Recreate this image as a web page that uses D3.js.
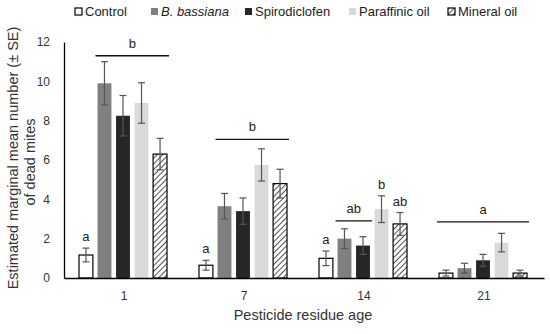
<!DOCTYPE html>
<html lang="en">
<head>
<meta charset="UTF-8" />
<title>Dead mites by pesticide residue age</title>
<style>
  body { margin: 0; background: #fff; }
  svg { display: block; font-family: "Liberation Sans", Arial, sans-serif; }
</style>
</head>
<body>
<svg></svg>
<script src="https://d3js.org/d3.v7.min.js"></script>
<script>
  const ages = ["1", "7", "14", "21"];
  const treatments = ["Control", "B. bassiana", "Spirodiclofen", "Paraffinic oil", "Mineral oil"];

  // mean values per treatment, in order of ages
  const controlMean = [1.17, 0.65, 1.0, 0.25];
  const bassianaMean = [9.9, 3.65, 2.0, 0.5];
  const spiroMean = [8.25, 3.4, 1.65, 0.9];
  const paraffinMean = [8.9, 5.75, 3.5, 1.8];
  const mineralMean = [6.3, 4.8, 2.75, 0.25];

  // SE
  const controlSE = [0.35, 0.25, 0.37, 0.15];
  const bassianaSE = [1.1, 0.65, 0.5, 0.25];
  const spiroSE = [1.03, 0.67, 0.45, 0.3];
  const paraffinSE = [1.03, 0.82, 0.68, 0.47];
  const mineralSE = [0.8, 0.73, 0.58, 0.15];

  const yTicks = [0, 2, 4, 6, 8, 10, 12];

  // letters: single letter above a bar, or letter over a line spanning bars
  const singleLetters = [
    { age: "1", t: "Control", text: "a" },
    { age: "7", t: "Control", text: "a" },
    { age: "14", t: "Control", text: "a" },
    { age: "14", t: "Paraffinic oil", text: "b" },
    { age: "14", t: "Mineral oil", text: "ab" }
  ];
  const groupLetters = [
    { age: "1", from: "B. bassiana", to: "Mineral oil", level: 11.3, text: "b" },
    { age: "7", from: "B. bassiana", to: "Mineral oil", level: 7.05, text: "b" },
    { age: "14", from: "B. bassiana", to: "Spirodiclofen", level: 2.9, text: "ab" },
    { age: "21", from: "Control", to: "Mineral oil", level: 2.85, text: "a" }
  ];

  const means = [controlMean, bassianaMean, spiroMean, paraffinMean, mineralMean];
  const ses = [controlSE, bassianaSE, spiroSE, paraffinSE, mineralSE];
  const fills = ["#ffffff", "#808080", "#262626", "#d9d9d9", "url(#hatch)"];
  const strokes = ["#000", "none", "none", "none", "#000"];

  const data = [];
  ages.forEach((a, i) => {
    treatments.forEach((t, j) => {
      data.push({ age: a, t, idx: j, mean: means[j][i], se: ses[j][i] });
    });
  });

  const width = 550, height = 334;
  const margin = { top: 42, right: 6, bottom: 56, left: 64 };

  const svg = d3.select("svg").attr("width", width).attr("height", height);

  const defs = svg.append("defs");
  const pat = defs.append("pattern")
    .attr("id", "hatch")
    .attr("patternUnits", "userSpaceOnUse")
    .attr("width", 4).attr("height", 4)
    .attr("patternTransform", "rotate(45)");
  pat.append("rect").attr("width", 4).attr("height", 4).attr("fill", "#fff");
  pat.append("line").attr("x1", 0).attr("y1", 0).attr("x2", 0).attr("y2", 4)
    .attr("stroke", "#222").attr("stroke-width", 1.6);

  const x = d3.scaleBand().domain(ages)
    .range([margin.left, width - margin.right]);
  const x1 = d3.scaleBand().domain(treatments)
    .range([15, x.bandwidth() - 17]).paddingInner(0.25);
  const y = d3.scaleLinear().domain([0, 12])
    .range([height - margin.bottom, margin.top]);

  // y axis
  const yAxis = svg.append("g")
    .attr("transform", `translate(${margin.left},0)`)
    .call(d3.axisLeft(y).tickValues(yTicks).tickSize(0).tickPadding(14));
  yAxis.select(".domain").attr("stroke", "#000").attr("stroke-width", 1.3);
  yAxis.selectAll("text").attr("font-size", 12).attr("fill", "#333");

  // bars
  svg.append("g").selectAll("rect")
    .data(data)
    .join("rect")
    .attr("x", d => x(d.age) + x1(d.t))
    .attr("y", d => y(d.mean))
    .attr("width", x1.bandwidth())
    .attr("height", d => y(0) - y(d.mean))
    .attr("fill", d => fills[d.idx])
    .attr("stroke", d => strokes[d.idx])
    .attr("stroke-width", 1.2);

  // error bars
  const eb = svg.append("g").attr("stroke", "#555").attr("stroke-width", 1.2);
  data.forEach(d => {
    const cx = x(d.age) + x1(d.t) + x1.bandwidth() / 2;
    const yt = y(d.mean + d.se), yb = y(Math.max(0, d.mean - d.se));
    eb.append("line").attr("x1", cx).attr("x2", cx).attr("y1", yt).attr("y2", yb);
    eb.append("line").attr("x1", cx - 3.5).attr("x2", cx + 3.5).attr("y1", yt).attr("y2", yt);
    eb.append("line").attr("x1", cx - 3.5).attr("x2", cx + 3.5).attr("y1", yb).attr("y2", yb);
  });

  // x axis
  const xAxis = svg.append("g")
    .attr("transform", `translate(0,${y(0)})`)
    .call(d3.axisBottom(x).tickSize(0).tickPadding(13));
  xAxis.select(".domain").attr("stroke", "#000").attr("stroke-width", 1.3);
  xAxis.selectAll("text").attr("font-size", 12).attr("fill", "#333");

  // significance letters
  const lab = svg.append("g").attr("font-size", 13).attr("fill", "#222").attr("text-anchor", "middle");
  singleLetters.forEach(s => {
    const d = data.find(e => e.age === s.age && e.t === s.t);
    lab.append("text")
      .attr("x", x(d.age) + x1(d.t) + x1.bandwidth() / 2)
      .attr("y", y(d.mean + d.se) - 7)
      .text(s.text);
  });
  groupLetters.forEach(g => {
    const xa = x(g.age) + x1(g.from) - 2;
    const xb = x(g.age) + x1(g.to) + x1.bandwidth() + 2;
    svg.append("line")
      .attr("x1", xa).attr("x2", xb)
      .attr("y1", y(g.level)).attr("y2", y(g.level))
      .attr("stroke", "#111").attr("stroke-width", 1.3);
    lab.append("text")
      .attr("x", (xa + xb) / 2)
      .attr("y", y(g.level) - 8)
      .text(g.text);
  });

  // axis titles
  const midY = (y(0) + y(12)) / 2;
  svg.append("text")
    .attr("transform", `translate(18,${midY - 2}) rotate(-90)`)
    .attr("text-anchor", "middle")
    .attr("font-size", 14.5).attr("fill", "#333")
    .text("Estimated marginal mean number (± SE)");
  svg.append("text")
    .attr("transform", `translate(35,${midY + 2}) rotate(-90)`)
    .attr("text-anchor", "middle")
    .attr("font-size", 14.5).attr("fill", "#333")
    .text("of dead mites");
  svg.append("text")
    .attr("x", 303).attr("y", 320)
    .attr("text-anchor", "middle")
    .attr("font-size", 14.5).attr("fill", "#333")
    .text("Pesticide residue age");

  // legend
  const legX = [75, 151, 245, 349, 448];
  const leg = svg.append("g");
  treatments.forEach((t, j) => {
    const g = leg.append("g").attr("transform", `translate(${legX[j]},8)`);
    g.append("rect").attr("width", 7).attr("height", 7)
      .attr("fill", fills[j])
      .attr("stroke", strokes[j]).attr("stroke-width", 1.2);
    g.append("text").attr("x", 10).attr("y", 8)
      .attr("font-size", 13).attr("fill", "#222")
      .attr("font-style", j === 1 ? "italic" : "normal")
      .text(t);
  });
</script>
</body>
</html>
